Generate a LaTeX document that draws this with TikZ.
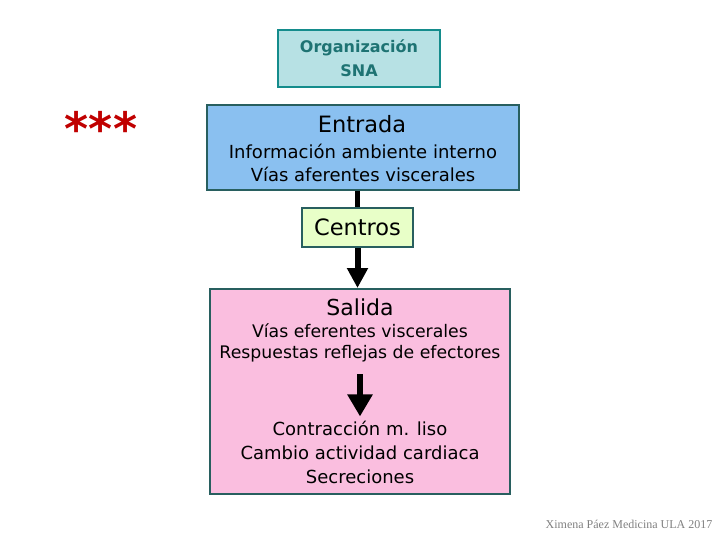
\documentclass[tikz,border=0pt]{standalone}
\usepackage{fontspec}
\setmainfont{DejaVu Sans}
\newfontfamily\footfont{Liberation Serif}
\usetikzlibrary{arrows.meta,positioning}
\definecolor{snafill}{RGB}{183,225,228}
\definecolor{snaline}{RGB}{20,140,140}
\definecolor{snatext}{RGB}{30,115,115}
\definecolor{boxline}{RGB}{40,95,95}
\definecolor{entfill}{RGB}{138,192,240}
\definecolor{cenfill}{RGB}{232,255,200}
\definecolor{salfill}{RGB}{250,190,223}
\definecolor{starred}{RGB}{192,0,0}

\begin{document}
\begin{tikzpicture}[
  x=1pt,y=-1pt,
  box/.style={draw=boxline,line width=2pt,inner sep=0pt},
  txt/.style={align=center,inner sep=0pt},
  bigarr/.style={line width=6pt,-{Triangle[width=20pt,length=20pt]}}
]
\useasboundingbox (0,0) rectangle (720,540);
% boxes
\node[box,draw=snaline,fill=snafill,minimum width=162pt,minimum height=57pt] (sna) at (359,58.5) {};
\node[box,fill=entfill,minimum width=312pt,minimum height=85pt] (entrada) at (363,147.5) {};
\node[box,fill=cenfill,minimum width=111pt,minimum height=39pt] (centros) at (357.5,227.5) {};
\node[box,fill=salfill,minimum width=300pt,minimum height=205pt] (salida) at (360,391.5) {};
% texts
\node[txt,text=snatext,font=\bfseries\fontsize{16}{24}\selectfont] (snatxt) at (sna) {Organización\\SNA};
\node[txt,font=\fontsize{22.5}{20}\selectfont] (enttit) at (362,124) {Entrada};
\node[txt,font=\fontsize{18}{23}\selectfont] (entinfo) at (363,163) {Información ambiente interno\\Vías aferentes viscerales};
\node[txt,font=\fontsize{22.5}{20}\selectfont] (centxt) at (centros) {Centros};
\node[txt,font=\fontsize{22}{20}\selectfont] (saltit) at (360,307) {Salida};
\node[txt,font=\fontsize{17.3}{21}\selectfont] (salvias) at (360,343) {Vías eferentes viscerales\\Respuestas reflejas de efectores};
\node[txt,font=\fontsize{18}{24}\selectfont] (efectos) at (360,452) {Contracción m. liso\\Cambio actividad cardiaca\\Secreciones};
\node[txt,text=starred,font=\bfseries\fontsize{46}{46}\selectfont] (stars) at (101,128) {***};
\node[txt,text=gray,font=\footfont\fontsize{12}{12}\selectfont] (credito) at (629,524) {Ximena Páez Medicina ULA 2017};
% connectors
\draw[line width=5pt] (centros.north |- entrada.south) -- (centros.north);
\draw[bigarr] (centros.south) -- (centros.south |- salida.north);
\draw[bigarr,-{Triangle[width=24pt,length=22pt]},shorten <=12pt,shorten >=4pt] (salvias.south) -- (efectos.north);
\end{tikzpicture}
\end{document}
